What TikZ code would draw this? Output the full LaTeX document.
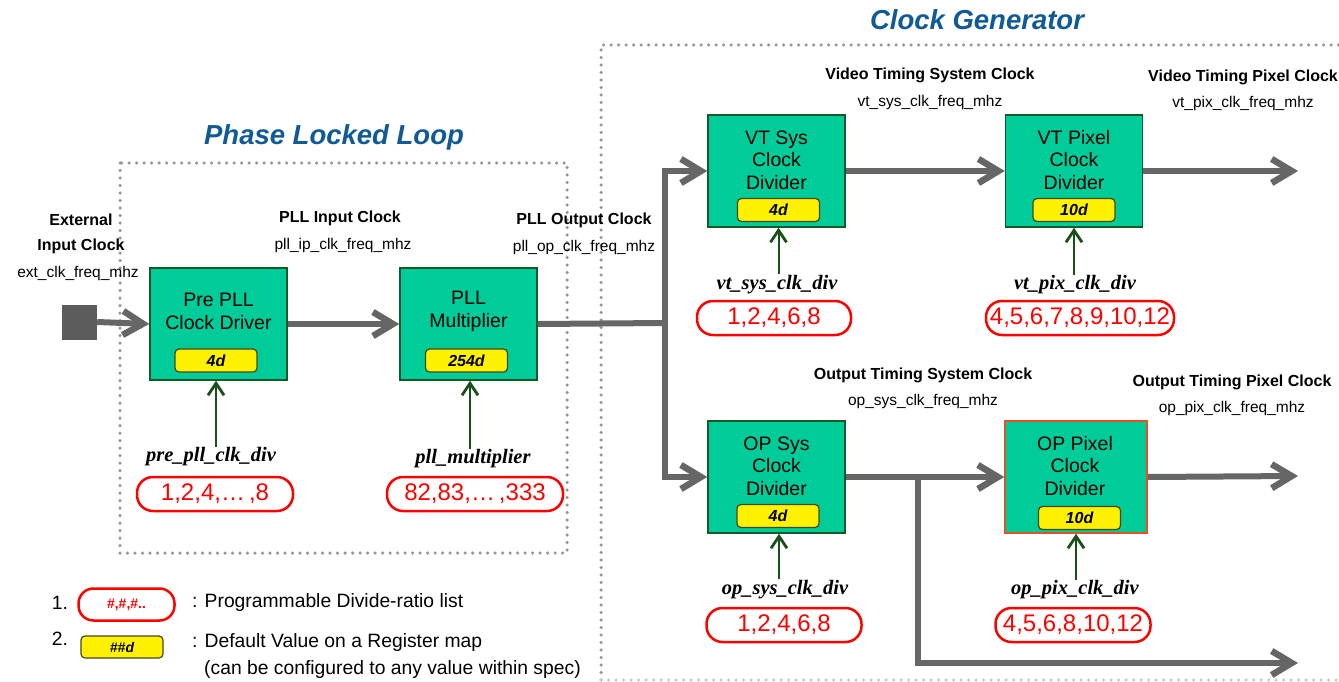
\documentclass[tikz,border=0pt]{standalone}
\usepackage{fontspec}
\setmainfont{Liberation Sans}
\newfontfamily\serifit{Liberation Serif}
\usetikzlibrary{arrows.meta}
\definecolor{boxgreen}{RGB}{0,204,153}
\definecolor{blkborder}{RGB}{20,90,40}
\definecolor{yelborder}{RGB}{70,70,30}
\definecolor{arrgray}{RGB}{102,102,102}
\definecolor{grn}{RGB}{25,80,25}
\definecolor{dotgray}{RGB}{150,150,150}
\definecolor{titleblue}{RGB}{16,90,150}
\definecolor{redb}{RGB}{255,0,0}
\definecolor{opborder}{RGB}{230,80,40}
\begin{document}
\begin{tikzpicture}[x=1pt,y=-1pt,
  blk/.style={draw=blkborder, fill=boxgreen, line width=1.5pt, minimum width=137pt, minimum height=112pt, inner sep=0pt},
  btxt/.style={font=\fontsize{19.5}{22.5}\selectfont, align=center, text=black, inner sep=0pt},
  yel/.style={draw=yelborder, fill=yellow, rounded corners=4pt, line width=1.2pt, minimum width=82pt, minimum height=23pt, inner sep=0pt, font=\fontsize{16}{16}\selectfont\bfseries\itshape},
  redbox/.style={draw=redb, line width=2.5pt, rounded corners=16pt, minimum height=34pt, inner sep=0pt, text=redb, font=\fontsize{24}{24}\selectfont},
  param/.style={font=\serifit\fontsize{20.5}{20.5}\selectfont\bfseries\itshape, inner sep=1pt},
  hdr/.style={font=\fontsize{16}{16}\selectfont\bfseries, inner sep=0pt},
  sub/.style={font=\fontsize{15.5}{15.5}\selectfont, inner sep=0pt},
  legtxt/.style={font=\fontsize{19.3}{19.3}\selectfont, inner sep=0pt, anchor=west},
  garrow/.style={draw=arrgray, line width=6pt, -{Straight Barb[length=20pt,width=24pt,line width=6.5pt]}},
  gline/.style={draw=arrgray, line width=6pt},
  grarrow/.style={draw=grn, line width=2pt, -{Straight Barb[length=12pt,width=16pt,line width=2.8pt]}},
  dotbox/.style={draw=dotgray, line width=3.5pt, line cap=round, dash pattern=on 0pt off 7.5pt},
  ttl/.style={font=\fontsize{27.5}{27.5}\selectfont\bfseries\itshape, text=titleblue, inner sep=0pt}
]
\useasboundingbox (0,0) rectangle (1339,682);

% dotted regions
\draw[dotbox] (120,163) rectangle (567,553);
\draw[dotbox] (601,680) -- (601,45) -- (1345,45);
\draw[dotbox, draw=dotgray!50] (601,680) -- (1345,680);

% titles
\node[ttl] (tcg) at (977,20) {Clock Generator};
\node[ttl] (tpll) at (334,137) {Phase Locked Loop};

% external input
\node[fill=arrgray!90!black, minimum width=35pt, minimum height=35pt, inner sep=0pt] (ext) at (79.5,322) {};
\node[hdr, align=center, font=\fontsize{16}{25}\selectfont\bfseries] (exth) at (81,234) {External\\Input Clock};
\node[sub] (exts) at (78,273) {ext\_clk\_freq\_mhz};

% PLL blocks
\node[blk] (prepll) at (218.5,324) {};
\node[btxt] (prepllt) at (218.5,311.5) {Pre PLL\\Clock Driver};
\node[yel] (prepllv) at (216,360.5) {4d};
\node[blk] (pll) at (468.5,324) {};
\node[btxt] (pllt) at (468.5,311.5) {PLL\\Multiplier};
\node[yel] (pllv) at (466.5,360.5) {254d};

\node[hdr] (pllih) at (340,218) {PLL Input Clock};
\node[sub] (pllis) at (343,245) {pll\_ip\_clk\_freq\_mhz};
\node[hdr] (pllohd) at (584,220) {PLL Output Clock};
\node[sub] (pllos) at (584,247) {pll\_op\_clk\_freq\_mhz};

\node[param] (prepar) at (211,457) {pre\_pll\_clk\_div};
\node[redbox, minimum width=156pt] (preval) at (215,494) {1,2,4,…\,,8};
\node[param] (pllpar) at (473,459) {pll\_multiplier};
\node[redbox, minimum width=176pt] (pllval) at (475,494) {82,83,…\,,333};

% clock generator blocks
\node[blk] (vts) at (776.5,171) {};
\node[btxt] (vtst) at (776.5,160) {VT Sys\\Clock\\Divider};
\node[yel] (vtsv) at (778.5,210) {4d};
\node[blk] (vtp) at (1074,171) {};
\node[btxt] (vtpt) at (1074,160) {VT Pixel\\Clock\\Divider};
\node[yel] (vtpv) at (1074,210) {10d};
\node[blk] (ops) at (776.5,477) {};
\node[btxt] (opst) at (776.5,466) {OP Sys\\Clock\\Divider};
\node[yel] (opsv) at (778,516) {4d};
\node[blk, draw=opborder, minimum width=142pt] (opp) at (1076,477) {};
\node[btxt] (oppt) at (1075,466) {OP Pixel\\Clock\\Divider};
\node[yel] (oppv) at (1079.5,518) {10d};

\node[hdr] (vtsh) at (930,75) {Video Timing System Clock};
\node[sub] (vtss) at (930,102) {vt\_sys\_clk\_freq\_mhz};
\node[hdr] (vtph) at (1243,77) {Video Timing Pixel Clock};
\node[sub] (vtps) at (1243,103) {vt\_pix\_clk\_freq\_mhz};
\node[hdr] (opsh) at (923,375) {Output Timing System Clock};
\node[sub] (opss) at (923,401) {op\_sys\_clk\_freq\_mhz};
\node[hdr] (opph) at (1232,382) {Output Timing Pixel Clock};
\node[sub] (opps) at (1232,408) {op\_pix\_clk\_freq\_mhz};

\node[param] (vtspar) at (777,285) {vt\_sys\_clk\_div};
\node[redbox, minimum width=154pt] (vtsval) at (774,318) {1,2,4,6,8};
\node[param] (vtppar) at (1075,285) {vt\_pix\_clk\_div};
\node[redbox, minimum width=188pt] (vtpval) at (1080,318) {4,5,6,7,8,9,10,12};
\node[param] (opspar) at (785,590) {op\_sys\_clk\_div};
\node[redbox, minimum width=155pt] (opsval) at (784,625) {1,2,4,6,8};
\node[param] (opppar) at (1075,590) {op\_pix\_clk\_div};
\node[redbox, minimum width=155pt] (oppval) at (1073,625) {4,5,6,8,10,12};

% gray connectors
\coordinate (br) at (665,323);
\coordinate (ob) at (918,476);
\coordinate (vtout) at (1298,171);
\coordinate (opout) at (1298,476);
\coordinate (opout2) at (1298,663);
\draw[garrow] (ext.east) -- (prepll.west);
\draw[garrow] (prepll.east) -- (pll.west);
\draw[gline] (pll.east) -- (br);
\draw[garrow] (br) |- (vts.west);
\draw[garrow] (br) |- (ops.west);
\draw[garrow] (vts.east) -- (vtp.west);
\draw[garrow] (vtp.east) -- (vtout);
\draw[garrow] (ops.east) -- (opp.west);
\draw[garrow] (opp.east) -- (opout);
\draw[garrow] (ob) |- (opout2);

% green parameter arrows
\draw[grarrow] (prepar.north -| prepllv) -- (prepll.south -| prepllv);
\draw[grarrow] (pllpar.north -| 470,0) -- (pll.south -| 470,0);
\draw[grarrow] (vtspar.north -| vtsv) -- (vts.south -| vtsv);
\draw[grarrow] (vtppar.north -| vtpv) -- (vtp.south -| vtpv);
\draw[grarrow] (opspar.north -| 779,0) -- (ops.south -| 779,0);
\draw[grarrow] (opppar.north -| 1076,0) -- (opp.south -| 1076,0);

% legend
\node[legtxt, anchor=center] (l1) at (60,603) {1.};
\node[redbox, minimum width=96pt, minimum height=32pt, rounded corners=15pt, font=\fontsize{14}{14}\selectfont\bfseries] (l1box) at (126.5,604.5) {\#,\#,\#..};
\node[legtxt] (l1t) at (192,603) {: Programmable Divide-ratio list};
\node[legtxt, anchor=center] (l2) at (60,639) {2.};
\node[yel, minimum height=22pt, font=\fontsize{14}{14}\selectfont\bfseries\itshape] (l2box) at (122,647) {\#\#d};
\node[legtxt] (l2t) at (192,643) {: Default Value on a Register map};
\node[legtxt] (l3t) at (204,670) {(can be configured to any value within spec)};
\end{tikzpicture}
\end{document}
